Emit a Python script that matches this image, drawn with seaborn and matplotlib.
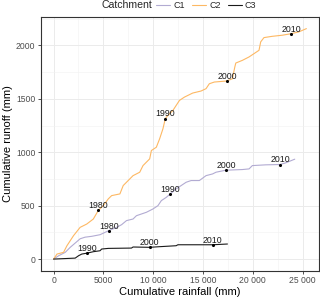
import matplotlib
matplotlib.use("Agg")
import matplotlib.pyplot as plt
import matplotlib.ticker as mticker
import seaborn as sns
import numpy as np
import pandas as pd

# cumulative rainfall / runoff (mm)
c1_rain = [0, 500, 1170, 1670, 2170, 2665, 3160, 3830, 4660, 5530, 6330, 6830, 7320, 7980,
           8320, 8820, 9320, 9980, 10480, 10820, 11320, 11720, 12310, 13310, 13810, 14640,
           15310, 15970, 16310, 17300, 18960, 19630, 19960, 21300, 22730, 23290, 24220]
c1_runoff = [0, 31, 63, 110, 150, 190, 205, 213, 228, 266, 297, 322, 360, 375,
             406, 422, 438, 469, 500, 547, 578, 610, 657, 719, 735, 735,
             781, 797, 813, 832, 838, 844, 875, 882, 885, 900, 935]

c2_rain = [0, 340, 1000, 1340, 2000, 2665, 3330, 3990, 4490, 4990, 5490, 5830, 6660, 6990,
           7650, 7980, 8650, 8980, 9650, 9820, 10320, 10650, 10980, 11220, 11480, 11980,
           12640, 13140, 13970, 14810, 15310, 15640, 16140, 17400, 17960, 18200, 18300,
           18960, 19630, 20130, 20630, 20800, 21130, 21960, 22950, 23890, 24620, 25390]
c2_runoff = [0, 47, 63, 125, 219, 297, 328, 375, 455, 500, 563, 594, 610, 688,
             750, 781, 813, 875, 938, 1016, 1047, 1126, 1219, 1315, 1344, 1391,
             1485, 1516, 1554, 1573, 1595, 1641, 1657, 1667, 1688, 1798, 1835,
             1860, 1892, 1923, 1954, 2033, 2073, 2085, 2095, 2110, 2126, 2157]

c3_rain = [0, 2170, 2500, 2830, 3330, 3990, 4660, 4830, 5490, 7820, 7980, 9650, 10650,
           12310, 12480, 15970, 17460]
c3_runoff = [0, 9, 31, 47, 55, 69, 78, 94, 100, 103, 113, 110, 116,
             125, 134, 134, 141]

# decade markers
c1_years = [1980, 1990, 2000, 2010]
c1_year_rain = [5530, 11720, 17300, 22730]
c1_year_runoff = [266, 610, 832, 885]
c2_years = [1980, 1990, 2000, 2010]
c2_year_rain = [4490, 11220, 17400, 23890]
c2_year_runoff = [455, 1315, 1667, 2110]
c3_years = [1990, 2000, 2010]
c3_year_rain = [3330, 9650, 15970]
c3_year_runoff = [55, 110, 134]

catchments = ["C1", "C2", "C3"]
palette = {"C1": "#b2abd2", "C2": "#fdb863", "C3": "#1a1a1a"}

df = pd.concat([
    pd.DataFrame({"rain": c1_rain, "runoff": c1_runoff, "Catchment": "C1"}),
    pd.DataFrame({"rain": c2_rain, "runoff": c2_runoff, "Catchment": "C2"}),
    pd.DataFrame({"rain": c3_rain, "runoff": c3_runoff, "Catchment": "C3"}),
], ignore_index=True)

marks = pd.concat([
    pd.DataFrame({"rain": c1_year_rain, "runoff": c1_year_runoff, "year": c1_years}),
    pd.DataFrame({"rain": c2_year_rain, "runoff": c2_year_runoff, "year": c2_years}),
    pd.DataFrame({"rain": c3_year_rain, "runoff": c3_year_runoff, "year": c3_years}),
], ignore_index=True)

sns.set_theme(style="whitegrid")
plt.rcParams["font.family"] = ["Liberation Sans", "DejaVu Sans"]

fig = plt.figure(figsize=(3.2, 3.0), dpi=100)
ax = fig.add_axes([0.128, 0.098, 0.869, 0.845])

sns.lineplot(data=df, x="rain", y="runoff", hue="Catchment", hue_order=catchments,
             palette=palette, sort=False, estimator=None, linewidth=0.8, ax=ax)
sns.scatterplot(data=marks, x="rain", y="runoff", color="black", s=5,
                linewidth=0, ax=ax, zorder=4)
for _, r in marks.iterrows():
    ax.annotate(str(r["year"]), (r["rain"], r["runoff"]), xytext=(0, 3.3),
                textcoords="offset points", ha="center", va="center",
                fontsize=6.3, color="#1a1a1a", zorder=5)

ax.margins(x=0.05, y=0.05)
ax.set_xticks([0, 5000, 10000, 15000, 20000, 25000])
ax.set_yticks([0, 500, 1000, 1500, 2000])
ax.xaxis.set_minor_locator(mticker.MultipleLocator(2500))
ax.yaxis.set_minor_locator(mticker.MultipleLocator(250))
ax.xaxis.set_major_formatter(mticker.FuncFormatter(
    lambda v, p: f"{int(v):,}".replace(",", " ") if v >= 10000 else f"{int(v)}"))

ax.set_facecolor("white")
ax.grid(which="major", color="#ebebeb", linewidth=0.7)
ax.grid(which="minor", color="#f2f2f2", linewidth=0.4)
for s in ax.spines.values():
    s.set_color("#333333")
    s.set_linewidth(0.8)
ax.tick_params(which="major", length=2.5, width=0.6, color="#333333",
               labelsize=6.2, labelcolor="#4d4d4d", pad=1.5, bottom=True, left=True)
ax.tick_params(which="minor", length=0)
ax.set_xlabel("Cumulative rainfall (mm)", fontsize=8, color="black", labelpad=1)
ax.set_ylabel("Cumulative runoff (mm)", fontsize=8, color="black", labelpad=2)

handles, labels = ax.get_legend_handles_labels()
ax.get_legend().remove()
fig.legend(handles[:3], labels[:3], loc="center left", bbox_to_anchor=(156 / 320, 1 - 5.5 / 300),
           ncol=3, frameon=False, fontsize=6.5, handlelength=1.6, handletextpad=0.3,
           columnspacing=0.8, borderaxespad=0, borderpad=0)
fig.text(102 / 320, 1 - 5.5 / 300, "Catchment", fontsize=7.6, va="center", ha="left")

fig.savefig("out.png", dpi=100)
